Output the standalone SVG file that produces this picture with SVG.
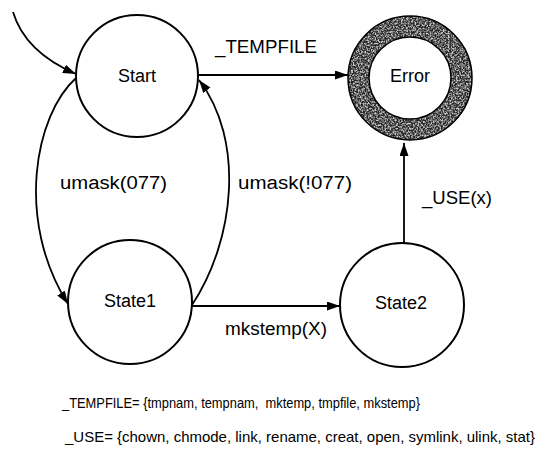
<svg xmlns="http://www.w3.org/2000/svg" width="551" height="453" viewBox="0 0 551 453">
<style>
.node{fill:#fff;stroke:#000;stroke-width:2}
.lbl{font-family:"Liberation Sans",Arial,sans-serif;font-size:18px;fill:#000}
.ctr{text-anchor:middle}
.note{font-family:"Liberation Sans",Arial,sans-serif;font-size:14.5px;fill:#000}
.edge{fill:none;stroke:#000;stroke-width:1.8;marker-end:url(#arr)}
</style>
<defs>
<marker id="arr" markerUnits="userSpaceOnUse" markerWidth="14" markerHeight="10" refX="13" refY="4.5" orient="auto">
<path d="M0,0 L13,4.5 L0,9 z" fill="#000"/>
</marker>
<filter id="speck" filterUnits="userSpaceOnUse" x="340" y="8" width="140" height="140">
<feTurbulence type="fractalNoise" baseFrequency="0.6" numOctaves="2" seed="5" result="n"/>
<feColorMatrix in="n" type="matrix" values="0 0 0 0 0.6  0 0 0 0 0.6  0 0 0 0 0.6  0 0 0 -3 1.85" result="g"/>
<feComposite in="g" in2="SourceGraphic" operator="in"/>
</filter>
</defs>
<rect width="551" height="453" fill="#fff"/>
<g id="start">
<circle class="node" cx="137" cy="76" r="61"/>
<text class="lbl ctr" x="137" y="82">Start</text>
</g>
<g id="error">
<circle cx="410" cy="78" r="51.5" fill="none" stroke="#262626" stroke-width="21"/>
<circle cx="410" cy="78" r="51.5" fill="none" stroke="#000" stroke-width="21" filter="url(#speck)"/>
<circle cx="410" cy="78" r="62" fill="none" stroke="#000" stroke-width="1.5"/>
<circle cx="410" cy="78" r="41" fill="#fff" stroke="#000" stroke-width="1.5"/>
<text class="lbl ctr" x="410" y="82">Error</text>
</g>
<g id="state1">
<circle class="node" cx="130" cy="302" r="62"/>
<text class="lbl ctr" x="130" y="307">State1</text>
</g>
<g id="state2">
<circle class="node" cx="402" cy="305" r="62"/>
<text class="lbl ctr" x="401" y="309">State2</text>
</g>
<g id="connectors">
<path class="edge" d="M13,12 Q25,52 76,74"/>
<path class="edge" d="M198,75 L348,75"/>
<path class="edge" d="M76,78 C35,115 15,220 68,304"/>
<path class="edge" d="M192,305 C235,240 245,140 199,80"/>
<path class="edge" d="M192,306 L340,306"/>
<path class="edge" d="M404,243 L404,143"/>
<text class="lbl" x="215" y="53" textLength="102" lengthAdjust="spacingAndGlyphs">_TEMPFILE</text>
<text class="lbl" x="60" y="189" textLength="107" lengthAdjust="spacingAndGlyphs">umask(077)</text>
<text class="lbl" x="238" y="189" textLength="114" lengthAdjust="spacingAndGlyphs">umask(!077)</text>
<text class="lbl" x="225" y="335" textLength="102" lengthAdjust="spacingAndGlyphs">mkstemp(X)</text>
<text class="lbl" x="422" y="204" textLength="70" lengthAdjust="spacingAndGlyphs">_USE(x)</text>
</g>
<text class="note" x="62" y="408" textLength="358" lengthAdjust="spacingAndGlyphs" xml:space="preserve">_TEMPFILE= {tmpnam, tempnam,  mktemp, tmpfile, mkstemp}</text>
<text class="note" x="65" y="442" textLength="470" lengthAdjust="spacingAndGlyphs">_USE= {chown, chmode, link, rename, creat, open, symlink, ulink, stat}</text>
</svg>
